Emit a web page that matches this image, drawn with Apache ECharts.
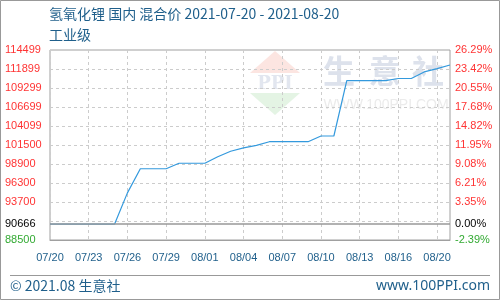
<!DOCTYPE html>
<html>
<head>
<meta charset="utf-8">
<script src="https://cdn.jsdelivr.net/npm/echarts@6/dist/echarts.min.js"></script>
<style>html,body{margin:0;padding:0;background:#fff}#c{width:500px;height:300px}</style>
</head>
<body>
<div id="c"></div>
<script>
// ---- data ----
const dates = ['07/20','07/21','07/22','07/23','07/24','07/25','07/26','07/27','07/28','07/29','07/30','07/31',
  '08/01','08/02','08/03','08/04','08/05','08/06','08/07','08/08','08/09','08/10','08/11','08/12',
  '08/13','08/14','08/15','08/16','08/17','08/18','08/19','08/20'];
const prices = [90666,90666,90666,90666,90666,90666,94950,98250,98250,98250,99000,99000,
  99000,99900,100650,101100,101450,101950,101950,101950,101950,102730,102730,110300,
  110300,110300,110300,110600,110600,111500,111950,112450];
const xTickLabels = ['07/20','07/23','07/26','07/29','08/01','08/04','08/07','08/10','08/13','08/16','08/20'];
const leftTicks = [114499,111899,109299,106699,104099,101500,98900,96300,93700,90666,88500];
const rightTicks = ['26.29%','23.42%','20.55%','17.68%','14.82%','11.95%','9.08%','6.21%','3.35%','0.00%','-2.39%'];
const gridValues = [91100,93700,96300,98900,101500,104099,106699,109299,111899];
const basePrice = 90666;
const yMin = 88500, yMax = 114499;

const blue = '#1f5f8b';
const labelFont = 'Liberation Sans';
function tickStyle(i) {
  const v = leftTicks[i];
  return v > basePrice ? 'r' : (v === basePrice ? 'k' : 'g');
}
const rich = {
  r: {color: '#ff3333', fontSize: 11, fontFamily: labelFont},
  k: {color: '#000000', fontSize: 11, fontFamily: labelFont},
  g: {color: '#33aa33', fontSize: 11, fontFamily: labelFont}
};

const chart = echarts.init(document.getElementById('c'), null, {renderer: 'canvas'});
chart.setOption({
  animation: false,
  backgroundColor: '#ffffff',
  title: {
    text: '氢氧化锂 国内 混合价 2021-07-20 - 2021-08-20',
    subtext: '工业级',
    left: 49, top: 6, itemGap: 5, padding: 0,
    textStyle: {fontSize: 14, color: blue, fontWeight: 'normal', fontFamily: 'Noto Sans CJK SC', lineHeight: 16},
    subtextStyle: {fontSize: 14, color: blue, fontFamily: 'Noto Sans CJK SC', lineHeight: 16}
  },
  grid: {left: 50, right: 50, top: 50, bottom: 60, show: true, borderColor: '#a0a0a0', borderWidth: 1, containLabel: false},
  xAxis: {
    type: 'category', data: dates, boundaryGap: false,
    axisLine: {show: true, lineStyle: {color: '#a0a0a0'}},
    axisTick: {show: false},
    axisLabel: {
      interval: 2, margin: 12, color: blue, fontSize: 11, fontFamily: labelFont,
      formatter: (v, i) => xTickLabels[Math.round(i / 3)] || ''
    },
    splitLine: {show: true, interval: 2, lineStyle: {color: '#cccccc', type: [3, 3], width: 1}}
  },
  yAxis: [{
    type: 'value', min: yMin, max: yMax, position: 'left',
    axisLine: {show: false},
    axisTick: {show: false, customValues: gridValues},
    axisLabel: {
      customValues: leftTicks, align: 'left', margin: 45,
      formatter: v => { const i = leftTicks.indexOf(v); return '{' + tickStyle(i) + '|' + v + '}'; },
      rich: rich
    },
    splitLine: {show: true, lineStyle: {color: '#cccccc', type: [3, 3], width: 1}}
  }, {
    type: 'value', min: yMin, max: yMax, position: 'right',
    axisLine: {show: false},
    axisTick: {show: false, customValues: gridValues},
    axisLabel: {
      customValues: leftTicks, align: 'left', margin: 5,
      formatter: v => { const i = leftTicks.indexOf(v); return '{' + tickStyle(i) + '|' + rightTicks[i] + '}'; },
      rich: rich
    },
    splitLine: {show: false}
  }],
  graphic: [
    {type: 'rect', shape: {x: 0.5, y: 0.5, width: 499, height: 299}, style: {fill: 'none', stroke: '#999999', lineWidth: 1}, silent: true},
    {type: 'line', shape: {x1: 10, y1: 275.5, x2: 490, y2: 275.5}, style: {stroke: '#999999', lineWidth: 1}, silent: true},
    {type: 'text', x: 10, y: 286, style: {text: '© 2021.08 生意社', fill: blue, fontSize: 14, fontFamily: 'Noto Sans CJK SC', verticalAlign: 'middle', textAlign: 'left'}},
    {type: 'text', x: 490, y: 286, style: {text: 'www.100PPI.com', fill: blue, fontSize: 14, fontFamily: 'Noto Sans', verticalAlign: 'middle', textAlign: 'right'}},
    // watermark
    {type: 'polygon', z: -1, shape: {points: [[275, 51], [250, 73], [300, 73]]}, style: {fill: '#fce5e1'}, silent: true},
    {type: 'polygon', z: -1, shape: {points: [[250, 93], [300, 93], [275, 115]]}, style: {fill: '#e4f4e4'}, silent: true},
    {type: 'text', z: -1, x: 275, y: 84, style: {text: 'PPI', fill: '#e2e6ef', fontSize: 18, fontWeight: 'bold', fontFamily: 'DejaVu Serif', textAlign: 'center', verticalAlign: 'middle'}, silent: true},
    {type: 'text', z: -1, x: 339, y: 71, style: {text: '生', fill: '#dde2ec', fontSize: 32, fontWeight: 'bold', fontFamily: 'Noto Sans CJK SC', textAlign: 'center', verticalAlign: 'middle'}, silent: true},
    {type: 'text', z: -1, x: 385, y: 71, style: {text: '意', fill: '#dde2ec', fontSize: 32, fontWeight: 'bold', fontFamily: 'Noto Sans CJK SC', textAlign: 'center', verticalAlign: 'middle'}, silent: true},
    {type: 'text', z: -1, x: 428, y: 71, style: {text: '社', fill: '#dde2ec', fontSize: 32, fontWeight: 'bold', fontFamily: 'Noto Sans CJK SC', textAlign: 'center', verticalAlign: 'middle'}, silent: true},
    {type: 'text', z: -1, x: 386, y: 105.5, style: {text: 'WWW.100PPI.COM', fill: '#ebebeb', fontSize: 14, fontFamily: 'Liberation Sans', textAlign: 'center', verticalAlign: 'middle'}, silent: true}
  ],
  series: [{
    type: 'line', data: prices, yAxisIndex: 0, symbol: 'none', smooth: false,
    lineStyle: {color: '#3399dd', width: 1.2},
    markLine: {
      silent: true, symbol: 'none', label: {show: false},
      lineStyle: {color: '#999999', type: 'solid', width: 1.5},
      data: [{yAxis: basePrice}]
    }
  }]
});
</script>
</body>
</html>
